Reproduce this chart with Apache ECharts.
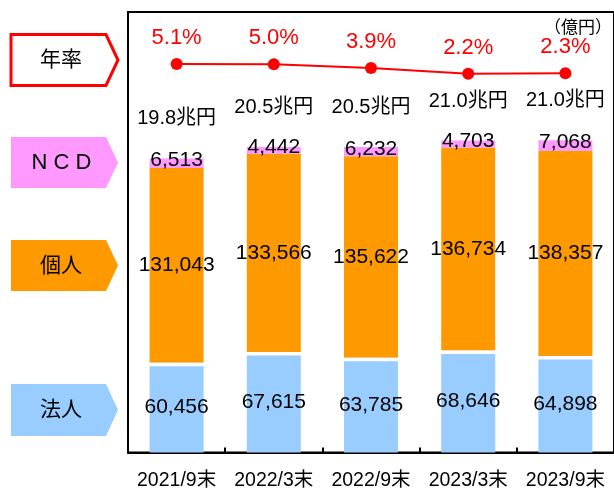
<!DOCTYPE html>
<html>
<head>
<meta charset="utf-8">
<script src="https://cdn.jsdelivr.net/npm/echarts@6/dist/echarts.min.js"></script>
<style>
html,body{margin:0;padding:0;background:#fff;}
#chart{width:614px;height:490px;}
</style>
</head>
<body>
<div id="chart"></div>
<script>
const categories = ['2021/9末', '2022/3末', '2022/9末', '2023/3末', '2023/9末'];
const houjin = [60456, 67615, 63785, 68646, 64898];   // 法人
const kojin = [131043, 133566, 135622, 136734, 138357]; // 個人
const ncd = [6513, 4442, 6232, 4703, 7068];            // NCD
const rate = [5.1, 5.0, 3.9, 2.2, 2.3];                // 年率 (%)
const legendNames = ['年率', 'N C D', '個人', '法人'];
const unitLabel = '（億円）';

const totals = categories.map((c, i) => houjin[i] + kojin[i] + ncd[i]);
const FONT = '"Liberation Sans", "Noto Sans CJK JP", sans-serif';
const fmt = v => v.toLocaleString('en-US');

const chart = echarts.init(document.getElementById('chart'), null, {renderer: 'canvas'});

const valueLabel = {
  show: true, position: 'inside', color: '#000', fontSize: 21, fontFamily: FONT,
  formatter: p => fmt(p.value)
};

function arrow(top, bottom, fill, stroke, lw) {
  const mid = (top + bottom) / 2;
  return {
    type: 'polygon',
    shape: {points: [[11, top], [106, top], [118, mid], [106, bottom], [11, bottom]]},
    style: {fill: fill, stroke: stroke || null, lineWidth: lw || 0},
    z: 10
  };
}
function legendText(x, y, text, size) {
  return {
    type: 'text', x: x, y: y, z: 11,
    style: {text: text, fill: '#000', font: size + 'px ' + FONT, align: 'center', verticalAlign: 'middle'}
  };
}

const option = {
  animation: false,
  backgroundColor: '#fff',
  grid: [
    {left: 128, top: 12, width: 488, height: 443, show: true, borderColor: '#000', borderWidth: 2, backgroundColor: 'transparent'},
    {left: 128, top: 61, width: 488, height: 20}
  ],
  xAxis: [
    {
      type: 'category', data: categories, gridIndex: 0,
      axisLine: {lineStyle: {color: '#000', width: 2}},
      axisTick: {show: true, inside: true, length: 5, lineStyle: {color: '#000', width: 2}},
      axisLabel: {color: '#000', fontSize: 19.5, fontFamily: FONT, margin: 18, interval: 0}
    },
    {type: 'category', data: categories, gridIndex: 1, show: false}
  ],
  yAxis: [
    {type: 'value', gridIndex: 0, min: 0, max: 296600, show: false},
    {type: 'value', gridIndex: 1, min: 0, max: 6, show: false}
  ],
  series: [
    {
      name: '法人', type: 'bar', stack: 'dep', data: houjin, barWidth: 54,
      itemStyle: {color: '#99CCFF'}, label: valueLabel, z: 2
    },
    {
      name: '個人', type: 'bar', stack: 'dep', data: kojin, barWidth: 54,
      itemStyle: {color: '#FF9900'}, label: valueLabel, z: 2
    },
    {
      name: 'NCD', type: 'bar', stack: 'dep', data: ncd, barWidth: 54,
      itemStyle: {color: '#FF99FF'},
      label: Object.assign({}, valueLabel, {offset: [0, -3]}), z: 2
    },
    {
      name: 'gap', type: 'custom', xAxisIndex: 0, yAxisIndex: 0, z: 3,
      data: houjin.map((v, i) => [i, v]),
      renderItem: function (params, api) {
        const p = api.coord([api.value(0), api.value(1)]);
        return {type: 'rect', shape: {x: p[0] - 29, y: p[1], width: 58, height: 3.5}, style: {fill: '#fff'}};
      },
      silent: true
    },
    {
      name: 'total', type: 'scatter', xAxisIndex: 0, yAxisIndex: 0, symbolSize: 1,
      itemStyle: {color: 'rgba(0,0,0,0)'},
      data: totals,
      label: {
        show: true, position: 'top', distance: 29, color: '#000', opacity: 1, fontSize: 20, fontFamily: FONT,
        formatter: p => (Math.floor(totals[p.dataIndex] / 1000) / 10).toFixed(1) + '兆円'
      },
      z: 4
    },
    {
      name: '年率', type: 'line', xAxisIndex: 1, yAxisIndex: 1, data: rate,
      symbol: 'circle', symbolSize: 12,
      lineStyle: {color: '#FF0000', width: 2}, itemStyle: {color: '#FF0000'},
      label: {
        show: true, position: 'top', distance: 9, color: '#FF0000', fontSize: 22, fontFamily: FONT,
        formatter: p => p.value.toFixed(1) + '%'
      },
      z: 5
    }
  ],
  graphic: [
    arrow(34.5, 85.5, '#fff', '#FF0000', 3),
    arrow(137, 188, '#FF99FF'),
    arrow(240, 291, '#FF9900'),
    arrow(384, 436, '#99CCFF'),
    legendText(61, 60, legendNames[0], 21),
    legendText(61.5, 163, legendNames[1], 22),
    legendText(61, 266, legendNames[2], 21),
    legendText(61, 410, legendNames[3], 21),
    {
      type: 'text', right: 2, top: 20, z: 11,
      style: {text: unitLabel, fill: '#000', font: '17px ' + FONT}
    }
  ]
};
chart.setOption(option);
</script>
</body>
</html>
